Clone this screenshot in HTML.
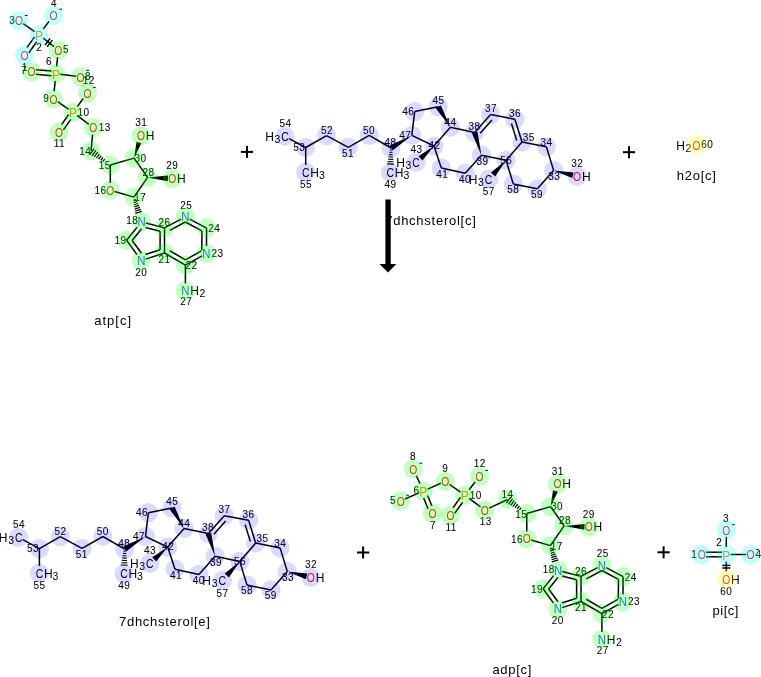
<!DOCTYPE html>
<html><head><meta charset="utf-8"><style>html,body{margin:0;padding:0;background:#fff;}svg{display:block;will-change:transform;}</style></head>
<body><svg width="761" height="677" viewBox="0 0 761 677" font-family="Liberation Sans, sans-serif">
<rect width="761" height="677" fill="#fff"/>
<g><line x1="94.25" y1="148.72" x2="89.89" y2="154.7" stroke="#000" stroke-width="1.3"/>
<line x1="95.99" y1="150.44" x2="92.06" y2="155.82" stroke="#000" stroke-width="1.3"/>
<line x1="97.72" y1="152.16" x2="94.23" y2="156.95" stroke="#000" stroke-width="1.3"/>
<line x1="99.46" y1="153.88" x2="96.4" y2="158.08" stroke="#000" stroke-width="1.3"/>
<line x1="101.2" y1="155.6" x2="98.56" y2="159.21" stroke="#000" stroke-width="1.3"/>
<line x1="102.93" y1="157.32" x2="100.73" y2="160.33" stroke="#000" stroke-width="1.3"/>
<line x1="104.67" y1="159.04" x2="102.9" y2="161.46" stroke="#000" stroke-width="1.3"/>
<line x1="110.3" y1="165" x2="134.1" y2="158.1" stroke="#000" stroke-width="1.5"/>
<line x1="110.3" y1="165" x2="110.3" y2="182.9" stroke="#000" stroke-width="1.5"/>
<line x1="134.1" y1="158.1" x2="147.6" y2="177.4" stroke="#000" stroke-width="1.5"/>
<line x1="147.6" y1="177.4" x2="133.9" y2="197.1" stroke="#000" stroke-width="1.5"/>
<line x1="133.9" y1="197.1" x2="114.6" y2="191.54" stroke="#000" stroke-width="1.5"/>
<polygon points="134.1,158.1 141.31,143.34 136.54,141.86" fill="#000"/>
<polygon points="147.6,177.4 167.87,181.21 168.13,175.41" fill="#000"/>
<line x1="136.22" y1="199.53" x2="133.35" y2="200.41" stroke="#000" stroke-width="1.25"/>
<line x1="137.16" y1="201.5" x2="133.68" y2="202.57" stroke="#000" stroke-width="1.25"/>
<line x1="138.1" y1="203.48" x2="134.02" y2="204.74" stroke="#000" stroke-width="1.25"/>
<line x1="139.04" y1="205.46" x2="134.35" y2="206.9" stroke="#000" stroke-width="1.25"/>
<line x1="139.98" y1="207.44" x2="134.69" y2="209.06" stroke="#000" stroke-width="1.25"/>
<line x1="140.92" y1="209.41" x2="135.02" y2="211.23" stroke="#000" stroke-width="1.25"/>
<line x1="141.86" y1="211.39" x2="135.36" y2="213.39" stroke="#000" stroke-width="1.25"/>
<line x1="137.2" y1="227.14" x2="126.6" y2="240.3" stroke="#000" stroke-width="1.5"/>
<line x1="126.6" y1="240.3" x2="137" y2="254.59" stroke="#000" stroke-width="1.5"/>
<line x1="145.6" y1="259.11" x2="164.5" y2="253" stroke="#000" stroke-width="1.5"/>
<line x1="164.5" y1="253" x2="164.5" y2="227.9" stroke="#000" stroke-width="1.5"/>
<line x1="164.5" y1="227.9" x2="145.8" y2="222.94" stroke="#000" stroke-width="1.5"/>
<line x1="164.5" y1="227.9" x2="181.1" y2="219.08" stroke="#000" stroke-width="1.5"/>
<line x1="189.7" y1="219.11" x2="206.6" y2="228.2" stroke="#000" stroke-width="1.5"/>
<line x1="206.6" y1="228.2" x2="206.46" y2="246" stroke="#000" stroke-width="1.5"/>
<line x1="202.1" y1="255.82" x2="185.4" y2="265.2" stroke="#000" stroke-width="1.5"/>
<line x1="185.4" y1="265.2" x2="164.5" y2="253" stroke="#000" stroke-width="1.5"/>
<line x1="185.4" y1="265.2" x2="185.4" y2="283.4" stroke="#000" stroke-width="1.5"/>
<line x1="141.57" y1="228.73" x2="132.14" y2="240.44" stroke="#000" stroke-width="1.5"/>
<line x1="132.14" y1="240.44" x2="141.51" y2="253.31" stroke="#000" stroke-width="1.5"/>
<line x1="145.36" y1="254.56" x2="160.1" y2="249.8" stroke="#000" stroke-width="1.5"/>
<line x1="160.1" y1="249.8" x2="160.1" y2="231.29" stroke="#000" stroke-width="1.5"/>
<line x1="160.1" y1="231.29" x2="145.55" y2="227.43" stroke="#000" stroke-width="1.5"/>
<line x1="169.81" y1="230.29" x2="185.39" y2="222.02" stroke="#000" stroke-width="1.5"/>
<line x1="185.39" y1="222.02" x2="201.98" y2="230.94" stroke="#000" stroke-width="1.5"/>
<line x1="201.98" y1="230.94" x2="201.83" y2="250.2" stroke="#000" stroke-width="1.5"/>
<line x1="201.39" y1="250.94" x2="185.44" y2="259.9" stroke="#000" stroke-width="1.5"/>
<line x1="185.44" y1="259.9" x2="169.79" y2="250.76" stroke="#000" stroke-width="1.5"/>
<text transform="translate(110.3,194.8) scale(0.86,1)" font-size="12.0" fill="#ff0d0d" text-anchor="middle">O</text>
<text transform="translate(141.5,226.3) scale(0.95,1)" font-size="12.0" fill="#3050f8" text-anchor="middle">N</text>
<text transform="translate(141.3,264.9) scale(0.95,1)" font-size="12.0" fill="#3050f8" text-anchor="middle">N</text>
<text transform="translate(206.3,257.8) scale(0.95,1)" font-size="12.0" fill="#3050f8" text-anchor="middle">N</text>
<text transform="translate(185.4,221.3) scale(0.95,1)" font-size="12.0" fill="#3050f8" text-anchor="middle">N</text>
<text transform="translate(185.4,295.3) scale(0.95,1)" font-size="12.0" fill="#3050f8" text-anchor="middle">N</text>
<text x="194.5" y="295.3" font-size="12.0" fill="#000" text-anchor="middle" >H</text>
<text x="202.5" y="297.3" font-size="10.5" fill="#000" text-anchor="middle" >2</text>
<text transform="translate(172.3,182.9) scale(0.86,1)" font-size="12.0" fill="#ff0d0d" text-anchor="middle">O</text>
<text x="181.4" y="182.9" font-size="12.0" fill="#000" text-anchor="middle" >H</text>
<text transform="translate(141.1,139.9) scale(0.86,1)" font-size="12.0" fill="#ff0d0d" text-anchor="middle">O</text>
<text x="150.2" y="139.9" font-size="12.0" fill="#000" text-anchor="middle" >H</text>
<text x="104.82" y="169.08" font-size="10.0" fill="#000" stroke="#000" stroke-width="0.05" letter-spacing="0.45" text-anchor="middle" >15</text>
<text x="100.52" y="194.38" font-size="10.0" fill="#000" stroke="#000" stroke-width="0.05" letter-spacing="0.45" text-anchor="middle" >16</text>
<text x="140.32" y="201.18" font-size="10.0" fill="#000" stroke="#000" stroke-width="0.05" letter-spacing="0.45" text-anchor="middle" >17</text>
<text x="132.22" y="224.38" font-size="10.0" fill="#000" stroke="#000" stroke-width="0.05" letter-spacing="0.45" text-anchor="middle" >18</text>
<text x="120.62" y="244.08" font-size="10.0" fill="#000" stroke="#000" stroke-width="0.05" letter-spacing="0.45" text-anchor="middle" >19</text>
<text x="141.22" y="275.98" font-size="10.0" fill="#000" stroke="#000" stroke-width="0.05" letter-spacing="0.45" text-anchor="middle" >20</text>
<text x="164.53" y="262.88" font-size="10.0" fill="#000" stroke="#000" stroke-width="0.05" letter-spacing="0.45" text-anchor="middle" >21</text>
<text x="191.53" y="269.38" font-size="10.0" fill="#000" stroke="#000" stroke-width="0.05" letter-spacing="0.45" text-anchor="middle" >22</text>
<text x="217.62" y="256.98" font-size="10.0" fill="#000" stroke="#000" stroke-width="0.05" letter-spacing="0.45" text-anchor="middle" >23</text>
<text x="214.32" y="232.38" font-size="10.0" fill="#000" stroke="#000" stroke-width="0.05" letter-spacing="0.45" text-anchor="middle" >24</text>
<text x="186.22" y="208.68" font-size="10.0" fill="#000" stroke="#000" stroke-width="0.05" letter-spacing="0.45" text-anchor="middle" >25</text>
<text x="164.53" y="226.38" font-size="10.0" fill="#000" stroke="#000" stroke-width="0.05" letter-spacing="0.45" text-anchor="middle" >26</text>
<text x="186.22" y="305.48" font-size="10.0" fill="#000" stroke="#000" stroke-width="0.05" letter-spacing="0.45" text-anchor="middle" >27</text>
<text x="148.42" y="175.88" font-size="10.0" fill="#000" stroke="#000" stroke-width="0.05" letter-spacing="0.45" text-anchor="middle" >28</text>
<text x="172.22" y="169.08" font-size="10.0" fill="#000" stroke="#000" stroke-width="0.05" letter-spacing="0.45" text-anchor="middle" >29</text>
<text x="140.42" y="161.78" font-size="10.0" fill="#000" stroke="#000" stroke-width="0.05" letter-spacing="0.45" text-anchor="middle" >30</text>
<text x="141.22" y="126.38" font-size="10.0" fill="#000" stroke="#000" stroke-width="0.05" letter-spacing="0.45" text-anchor="middle" >31</text>
<line x1="34.6" y1="31.73" x2="23.2" y2="23.57" stroke="#000" stroke-width="1.5"/>
<line x1="43.2" y1="29.11" x2="49.1" y2="21.29" stroke="#000" stroke-width="1.5"/>
<line x1="34.6" y1="36.85" x2="26.88" y2="47.6" stroke="#000" stroke-width="1.5"/>
<line x1="36.71" y1="41.8" x2="28.7" y2="52.95" stroke="#000" stroke-width="1.5"/>
<line x1="43.2" y1="38.19" x2="54" y2="46.71" stroke="#000" stroke-width="1.5"/>
<line x1="50.2" y1="38.36" x2="45" y2="44.96" stroke="#000" stroke-width="1.5"/>
<line x1="52.4" y1="40.1" x2="47.2" y2="46.69" stroke="#000" stroke-width="1.5"/>
<line x1="57.59" y1="57.1" x2="56.65" y2="66.4" stroke="#000" stroke-width="1.5"/>
<line x1="51.6" y1="71.1" x2="35.9" y2="69.68" stroke="#000" stroke-width="1.5"/>
<line x1="51.6" y1="75.72" x2="35.9" y2="74.3" stroke="#000" stroke-width="1.5"/>
<line x1="60.2" y1="74.32" x2="76.2" y2="76.28" stroke="#000" stroke-width="1.5"/>
<line x1="55.2" y1="80.8" x2="54.14" y2="91.3" stroke="#000" stroke-width="1.5"/>
<line x1="57.7" y1="101.71" x2="68.7" y2="109.39" stroke="#000" stroke-width="1.5"/>
<line x1="77.3" y1="106.63" x2="83.3" y2="98.57" stroke="#000" stroke-width="1.5"/>
<line x1="68.7" y1="114.49" x2="61.53" y2="124.6" stroke="#000" stroke-width="1.5"/>
<line x1="70.86" y1="119.4" x2="63.4" y2="129.91" stroke="#000" stroke-width="1.5"/>
<line x1="77.3" y1="115.64" x2="88.9" y2="124.36" stroke="#000" stroke-width="1.5"/>
<line x1="92.57" y1="134.6" x2="91.1" y2="151" stroke="#000" stroke-width="1.5"/>
<text transform="translate(24.4,59.8) scale(0.86,1)" font-size="12.0" fill="#ff0d0d" text-anchor="middle">O</text>
<text transform="translate(18.9,25.3) scale(0.86,1)" font-size="12.0" fill="#ff0d0d" text-anchor="middle">O</text>
<text transform="translate(53.4,20.4) scale(0.86,1)" font-size="12.0" fill="#ff0d0d" text-anchor="middle">O</text>
<text transform="translate(58.3,54.9) scale(0.86,1)" font-size="12.0" fill="#ff0d0d" text-anchor="middle">O</text>
<text transform="translate(31.6,76.4) scale(0.86,1)" font-size="12.0" fill="#ff0d0d" text-anchor="middle">O</text>
<text transform="translate(80.5,81.6) scale(0.86,1)" font-size="12.0" fill="#ff0d0d" text-anchor="middle">O</text>
<text transform="translate(53.4,103.5) scale(0.86,1)" font-size="12.0" fill="#ff0d0d" text-anchor="middle">O</text>
<text transform="translate(59.1,136.8) scale(0.86,1)" font-size="12.0" fill="#ff0d0d" text-anchor="middle">O</text>
<text transform="translate(87.6,97.6) scale(0.86,1)" font-size="12.0" fill="#ff0d0d" text-anchor="middle">O</text>
<text transform="translate(93.2,132.4) scale(0.86,1)" font-size="12.0" fill="#ff0d0d" text-anchor="middle">O</text>
<text x="38.9" y="39.5" font-size="12.0" fill="#ff8000" text-anchor="middle" >P</text>
<text x="55.9" y="78.5" font-size="12.0" fill="#ff8000" text-anchor="middle" >P</text>
<text x="73" y="117.1" font-size="12.0" fill="#ff8000" text-anchor="middle" >P</text>
<text x="24.6" y="70.58" font-size="10.0" fill="#000" stroke="#000" stroke-width="0.05" text-anchor="middle" >1</text>
<text x="39.1" y="51.38" font-size="10.0" fill="#000" stroke="#000" stroke-width="0.05" text-anchor="middle" >2</text>
<text x="12" y="23.98" font-size="10.0" fill="#000" stroke="#000" stroke-width="0.05" text-anchor="middle" >3</text>
<text x="53.8" y="7.38" font-size="10.0" fill="#000" stroke="#000" stroke-width="0.05" text-anchor="middle" >4</text>
<text x="65.7" y="53.08" font-size="10.0" fill="#000" stroke="#000" stroke-width="0.05" text-anchor="middle" >5</text>
<text x="48.8" y="65.38" font-size="10.0" fill="#000" stroke="#000" stroke-width="0.05" text-anchor="middle" >6</text>
<text x="23.8" y="74.08" font-size="10.0" fill="#000" stroke="#000" stroke-width="0.05" text-anchor="middle" >7</text>
<text x="87.8" y="79.58" font-size="10.0" fill="#000" stroke="#000" stroke-width="0.05" text-anchor="middle" >8</text>
<text x="46" y="102.38" font-size="10.0" fill="#000" stroke="#000" stroke-width="0.05" text-anchor="middle" >9</text>
<text x="83.62" y="115.78" font-size="10.0" fill="#000" stroke="#000" stroke-width="0.05" letter-spacing="0.45" text-anchor="middle" >10</text>
<text x="59.33" y="147.08" font-size="10.0" fill="#000" stroke="#000" stroke-width="0.05" letter-spacing="0.45" text-anchor="middle" >11</text>
<text x="88.82" y="83.78" font-size="10.0" fill="#000" stroke="#000" stroke-width="0.05" letter-spacing="0.45" text-anchor="middle" >12</text>
<text x="104.72" y="131.08" font-size="10.0" fill="#000" stroke="#000" stroke-width="0.05" letter-spacing="0.45" text-anchor="middle" >13</text>
<text x="85.22" y="154.88" font-size="10.0" fill="#000" stroke="#000" stroke-width="0.05" letter-spacing="0.45" text-anchor="middle" >14</text>
<rect x="24.8" y="15" width="2.8" height="1" fill="#000"/>
<rect x="59.3" y="8.7" width="2.8" height="1" fill="#000"/>
<rect x="86.2" y="69.8" width="2.8" height="1" fill="#000"/>
<rect x="92.9" y="86.9" width="2.8" height="1" fill="#000"/>
<circle cx="91.1" cy="151" r="9.6" fill="rgba(0,255,0,0.24)"/>
<circle cx="110.3" cy="165" r="9.6" fill="rgba(0,255,0,0.24)"/>
<circle cx="110.3" cy="190.3" r="9.6" fill="rgba(0,255,0,0.24)"/>
<circle cx="133.9" cy="197.1" r="9.6" fill="rgba(0,255,0,0.24)"/>
<circle cx="141.5" cy="221.8" r="9.6" fill="rgba(0,255,0,0.24)"/>
<circle cx="126.6" cy="240.3" r="9.6" fill="rgba(0,255,0,0.24)"/>
<circle cx="141.3" cy="260.5" r="9.6" fill="rgba(0,255,0,0.24)"/>
<circle cx="164.5" cy="253" r="9.6" fill="rgba(0,255,0,0.24)"/>
<circle cx="185.4" cy="265.2" r="9.6" fill="rgba(0,255,0,0.24)"/>
<circle cx="206.4" cy="253.4" r="9.6" fill="rgba(0,255,0,0.24)"/>
<circle cx="206.6" cy="228.2" r="9.6" fill="rgba(0,255,0,0.24)"/>
<circle cx="185.4" cy="216.8" r="9.6" fill="rgba(0,255,0,0.24)"/>
<circle cx="164.5" cy="227.9" r="9.6" fill="rgba(0,255,0,0.24)"/>
<circle cx="185.4" cy="290.8" r="9.6" fill="rgba(0,255,0,0.24)"/>
<circle cx="147.6" cy="177.4" r="9.6" fill="rgba(0,255,0,0.24)"/>
<circle cx="172.3" cy="178.5" r="9.6" fill="rgba(0,255,0,0.24)"/>
<circle cx="134.1" cy="158.1" r="9.6" fill="rgba(0,255,0,0.24)"/>
<circle cx="141.1" cy="135.6" r="9.6" fill="rgba(0,255,0,0.24)"/>
<circle cx="24.4" cy="55" r="9.6" fill="rgba(0,255,255,0.25)"/>
<circle cx="38.9" cy="34.8" r="9.6" fill="rgba(0,255,255,0.25)"/>
<circle cx="18.9" cy="20.5" r="9.6" fill="rgba(0,255,255,0.25)"/>
<circle cx="53.4" cy="15.6" r="9.6" fill="rgba(0,255,255,0.25)"/>
<circle cx="58.3" cy="50.1" r="9.6" fill="rgba(0,255,0,0.24)"/>
<circle cx="55.9" cy="73.8" r="9.6" fill="rgba(0,255,0,0.24)"/>
<circle cx="31.6" cy="71.6" r="9.6" fill="rgba(0,255,0,0.24)"/>
<circle cx="80.5" cy="76.8" r="9.6" fill="rgba(0,255,0,0.24)"/>
<circle cx="53.4" cy="98.7" r="9.6" fill="rgba(0,255,0,0.24)"/>
<circle cx="73" cy="112.4" r="9.6" fill="rgba(0,255,0,0.24)"/>
<circle cx="59.1" cy="132" r="9.6" fill="rgba(0,255,0,0.24)"/>
<circle cx="87.6" cy="92.8" r="9.6" fill="rgba(0,255,0,0.24)"/>
<circle cx="93.2" cy="127.6" r="9.6" fill="rgba(0,255,0,0.24)"/></g>
<g transform="translate(416.5,348.5)"><line x1="94.25" y1="148.72" x2="89.89" y2="154.7" stroke="#000" stroke-width="1.3"/>
<line x1="95.99" y1="150.44" x2="92.06" y2="155.82" stroke="#000" stroke-width="1.3"/>
<line x1="97.72" y1="152.16" x2="94.23" y2="156.95" stroke="#000" stroke-width="1.3"/>
<line x1="99.46" y1="153.88" x2="96.4" y2="158.08" stroke="#000" stroke-width="1.3"/>
<line x1="101.2" y1="155.6" x2="98.56" y2="159.21" stroke="#000" stroke-width="1.3"/>
<line x1="102.93" y1="157.32" x2="100.73" y2="160.33" stroke="#000" stroke-width="1.3"/>
<line x1="104.67" y1="159.04" x2="102.9" y2="161.46" stroke="#000" stroke-width="1.3"/>
<line x1="110.3" y1="165" x2="134.1" y2="158.1" stroke="#000" stroke-width="1.5"/>
<line x1="110.3" y1="165" x2="110.3" y2="182.9" stroke="#000" stroke-width="1.5"/>
<line x1="134.1" y1="158.1" x2="147.6" y2="177.4" stroke="#000" stroke-width="1.5"/>
<line x1="147.6" y1="177.4" x2="133.9" y2="197.1" stroke="#000" stroke-width="1.5"/>
<line x1="133.9" y1="197.1" x2="114.6" y2="191.54" stroke="#000" stroke-width="1.5"/>
<polygon points="134.1,158.1 141.31,143.34 136.54,141.86" fill="#000"/>
<polygon points="147.6,177.4 167.87,181.21 168.13,175.41" fill="#000"/>
<line x1="136.22" y1="199.53" x2="133.35" y2="200.41" stroke="#000" stroke-width="1.25"/>
<line x1="137.16" y1="201.5" x2="133.68" y2="202.57" stroke="#000" stroke-width="1.25"/>
<line x1="138.1" y1="203.48" x2="134.02" y2="204.74" stroke="#000" stroke-width="1.25"/>
<line x1="139.04" y1="205.46" x2="134.35" y2="206.9" stroke="#000" stroke-width="1.25"/>
<line x1="139.98" y1="207.44" x2="134.69" y2="209.06" stroke="#000" stroke-width="1.25"/>
<line x1="140.92" y1="209.41" x2="135.02" y2="211.23" stroke="#000" stroke-width="1.25"/>
<line x1="141.86" y1="211.39" x2="135.36" y2="213.39" stroke="#000" stroke-width="1.25"/>
<line x1="137.2" y1="227.14" x2="126.6" y2="240.3" stroke="#000" stroke-width="1.5"/>
<line x1="126.6" y1="240.3" x2="137" y2="254.59" stroke="#000" stroke-width="1.5"/>
<line x1="145.6" y1="259.11" x2="164.5" y2="253" stroke="#000" stroke-width="1.5"/>
<line x1="164.5" y1="253" x2="164.5" y2="227.9" stroke="#000" stroke-width="1.5"/>
<line x1="164.5" y1="227.9" x2="145.8" y2="222.94" stroke="#000" stroke-width="1.5"/>
<line x1="164.5" y1="227.9" x2="181.1" y2="219.08" stroke="#000" stroke-width="1.5"/>
<line x1="189.7" y1="219.11" x2="206.6" y2="228.2" stroke="#000" stroke-width="1.5"/>
<line x1="206.6" y1="228.2" x2="206.46" y2="246" stroke="#000" stroke-width="1.5"/>
<line x1="202.1" y1="255.82" x2="185.4" y2="265.2" stroke="#000" stroke-width="1.5"/>
<line x1="185.4" y1="265.2" x2="164.5" y2="253" stroke="#000" stroke-width="1.5"/>
<line x1="185.4" y1="265.2" x2="185.4" y2="283.4" stroke="#000" stroke-width="1.5"/>
<line x1="141.57" y1="228.73" x2="132.14" y2="240.44" stroke="#000" stroke-width="1.5"/>
<line x1="132.14" y1="240.44" x2="141.51" y2="253.31" stroke="#000" stroke-width="1.5"/>
<line x1="145.36" y1="254.56" x2="160.1" y2="249.8" stroke="#000" stroke-width="1.5"/>
<line x1="160.1" y1="249.8" x2="160.1" y2="231.29" stroke="#000" stroke-width="1.5"/>
<line x1="160.1" y1="231.29" x2="145.55" y2="227.43" stroke="#000" stroke-width="1.5"/>
<line x1="169.81" y1="230.29" x2="185.39" y2="222.02" stroke="#000" stroke-width="1.5"/>
<line x1="185.39" y1="222.02" x2="201.98" y2="230.94" stroke="#000" stroke-width="1.5"/>
<line x1="201.98" y1="230.94" x2="201.83" y2="250.2" stroke="#000" stroke-width="1.5"/>
<line x1="201.39" y1="250.94" x2="185.44" y2="259.9" stroke="#000" stroke-width="1.5"/>
<line x1="185.44" y1="259.9" x2="169.79" y2="250.76" stroke="#000" stroke-width="1.5"/>
<text transform="translate(110.3,194.8) scale(0.86,1)" font-size="12.0" fill="#ff0d0d" text-anchor="middle">O</text>
<text transform="translate(141.5,226.3) scale(0.95,1)" font-size="12.0" fill="#3050f8" text-anchor="middle">N</text>
<text transform="translate(141.3,264.9) scale(0.95,1)" font-size="12.0" fill="#3050f8" text-anchor="middle">N</text>
<text transform="translate(206.3,257.8) scale(0.95,1)" font-size="12.0" fill="#3050f8" text-anchor="middle">N</text>
<text transform="translate(185.4,221.3) scale(0.95,1)" font-size="12.0" fill="#3050f8" text-anchor="middle">N</text>
<text transform="translate(185.4,295.3) scale(0.95,1)" font-size="12.0" fill="#3050f8" text-anchor="middle">N</text>
<text x="194.5" y="295.3" font-size="12.0" fill="#000" text-anchor="middle" >H</text>
<text x="202.5" y="297.3" font-size="10.5" fill="#000" text-anchor="middle" >2</text>
<text transform="translate(172.3,182.9) scale(0.86,1)" font-size="12.0" fill="#ff0d0d" text-anchor="middle">O</text>
<text x="181.4" y="182.9" font-size="12.0" fill="#000" text-anchor="middle" >H</text>
<text transform="translate(141.1,139.9) scale(0.86,1)" font-size="12.0" fill="#ff0d0d" text-anchor="middle">O</text>
<text x="150.2" y="139.9" font-size="12.0" fill="#000" text-anchor="middle" >H</text>
<text x="104.82" y="169.08" font-size="10.0" fill="#000" stroke="#000" stroke-width="0.05" letter-spacing="0.45" text-anchor="middle" >15</text>
<text x="100.52" y="194.38" font-size="10.0" fill="#000" stroke="#000" stroke-width="0.05" letter-spacing="0.45" text-anchor="middle" >16</text>
<text x="140.32" y="201.18" font-size="10.0" fill="#000" stroke="#000" stroke-width="0.05" letter-spacing="0.45" text-anchor="middle" >17</text>
<text x="132.22" y="224.38" font-size="10.0" fill="#000" stroke="#000" stroke-width="0.05" letter-spacing="0.45" text-anchor="middle" >18</text>
<text x="120.62" y="244.08" font-size="10.0" fill="#000" stroke="#000" stroke-width="0.05" letter-spacing="0.45" text-anchor="middle" >19</text>
<text x="141.22" y="275.98" font-size="10.0" fill="#000" stroke="#000" stroke-width="0.05" letter-spacing="0.45" text-anchor="middle" >20</text>
<text x="164.53" y="262.88" font-size="10.0" fill="#000" stroke="#000" stroke-width="0.05" letter-spacing="0.45" text-anchor="middle" >21</text>
<text x="191.53" y="269.38" font-size="10.0" fill="#000" stroke="#000" stroke-width="0.05" letter-spacing="0.45" text-anchor="middle" >22</text>
<text x="217.62" y="256.98" font-size="10.0" fill="#000" stroke="#000" stroke-width="0.05" letter-spacing="0.45" text-anchor="middle" >23</text>
<text x="214.32" y="232.38" font-size="10.0" fill="#000" stroke="#000" stroke-width="0.05" letter-spacing="0.45" text-anchor="middle" >24</text>
<text x="186.22" y="208.68" font-size="10.0" fill="#000" stroke="#000" stroke-width="0.05" letter-spacing="0.45" text-anchor="middle" >25</text>
<text x="164.53" y="226.38" font-size="10.0" fill="#000" stroke="#000" stroke-width="0.05" letter-spacing="0.45" text-anchor="middle" >26</text>
<text x="186.22" y="305.48" font-size="10.0" fill="#000" stroke="#000" stroke-width="0.05" letter-spacing="0.45" text-anchor="middle" >27</text>
<text x="148.42" y="175.88" font-size="10.0" fill="#000" stroke="#000" stroke-width="0.05" letter-spacing="0.45" text-anchor="middle" >28</text>
<text x="172.22" y="169.08" font-size="10.0" fill="#000" stroke="#000" stroke-width="0.05" letter-spacing="0.45" text-anchor="middle" >29</text>
<text x="140.42" y="161.78" font-size="10.0" fill="#000" stroke="#000" stroke-width="0.05" letter-spacing="0.45" text-anchor="middle" >30</text>
<text x="141.22" y="126.38" font-size="10.0" fill="#000" stroke="#000" stroke-width="0.05" letter-spacing="0.45" text-anchor="middle" >31</text></g><line x1="419.93" y1="483.6" x2="416.38" y2="475.8" stroke="#000" stroke-width="1.5"/>
<line x1="419" y1="492.86" x2="405" y2="498.94" stroke="#000" stroke-width="1.5"/>
<line x1="423.66" y1="498" x2="428.1" y2="508.93" stroke="#000" stroke-width="1.5"/>
<line x1="427.6" y1="495.47" x2="431.88" y2="506" stroke="#000" stroke-width="1.5"/>
<line x1="427.6" y1="489.12" x2="440.9" y2="483.28" stroke="#000" stroke-width="1.5"/>
<line x1="449.5" y1="484.43" x2="460.5" y2="492.17" stroke="#000" stroke-width="1.5"/>
<line x1="469.1" y1="489.69" x2="475.1" y2="482.01" stroke="#000" stroke-width="1.5"/>
<line x1="460.5" y1="497.28" x2="452.94" y2="507.9" stroke="#000" stroke-width="1.5"/>
<line x1="462.64" y1="502.2" x2="454.8" y2="513.22" stroke="#000" stroke-width="1.5"/>
<line x1="469.1" y1="498.43" x2="480.5" y2="506.97" stroke="#000" stroke-width="1.5"/>
<line x1="489.1" y1="508.18" x2="507.6" y2="499.5" stroke="#000" stroke-width="1.5"/>
<text transform="translate(413.2,473.6) scale(0.86,1)" font-size="12.0" fill="#ff0d0d" text-anchor="middle">O</text>
<text transform="translate(400.7,505.6) scale(0.86,1)" font-size="12.0" fill="#ff0d0d" text-anchor="middle">O</text>
<text transform="translate(432.4,518.2) scale(0.86,1)" font-size="12.0" fill="#ff0d0d" text-anchor="middle">O</text>
<text transform="translate(445.2,486.2) scale(0.86,1)" font-size="12.0" fill="#ff0d0d" text-anchor="middle">O</text>
<text transform="translate(479.4,481.3) scale(0.86,1)" font-size="12.0" fill="#ff0d0d" text-anchor="middle">O</text>
<text transform="translate(450.5,520.1) scale(0.86,1)" font-size="12.0" fill="#ff0d0d" text-anchor="middle">O</text>
<text transform="translate(484.8,515) scale(0.86,1)" font-size="12.0" fill="#ff0d0d" text-anchor="middle">O</text>
<text x="423.3" y="495.7" font-size="12.0" fill="#ff8000" text-anchor="middle" >P</text>
<text x="464.8" y="499.9" font-size="12.0" fill="#ff8000" text-anchor="middle" >P</text>
<text x="412.9" y="459.88" font-size="10.0" fill="#000" stroke="#000" stroke-width="0.05" text-anchor="middle" >8</text>
<text x="416.4" y="493.68" font-size="10.0" fill="#000" stroke="#000" stroke-width="0.05" text-anchor="middle" >6</text>
<text x="392.8" y="504.38" font-size="10.0" fill="#000" stroke="#000" stroke-width="0.05" text-anchor="middle" >5</text>
<text x="445" y="471.78" font-size="10.0" fill="#000" stroke="#000" stroke-width="0.05" text-anchor="middle" >9</text>
<text x="432.9" y="529.48" font-size="10.0" fill="#000" stroke="#000" stroke-width="0.05" text-anchor="middle" >7</text>
<text x="451.23" y="531.08" font-size="10.0" fill="#000" stroke="#000" stroke-width="0.05" letter-spacing="0.45" text-anchor="middle" >11</text>
<text x="479.83" y="467.48" font-size="10.0" fill="#000" stroke="#000" stroke-width="0.05" letter-spacing="0.45" text-anchor="middle" >12</text>
<text x="475.73" y="499.38" font-size="10.0" fill="#000" stroke="#000" stroke-width="0.05" letter-spacing="0.45" text-anchor="middle" >10</text>
<text x="485.73" y="525.38" font-size="10.0" fill="#000" stroke="#000" stroke-width="0.05" letter-spacing="0.45" text-anchor="middle" >13</text>
<text x="507.62" y="498.18" font-size="10.0" fill="#000" stroke="#000" stroke-width="0.05" letter-spacing="0.45" text-anchor="middle" >14</text>
<rect x="419.4" y="462.7" width="2.8" height="1" fill="#000"/>
<rect x="406.2" y="494.7" width="2.8" height="1" fill="#000"/>
<rect x="485.3" y="469.9" width="2.8" height="1" fill="#000"/><g transform="translate(416.5,348.5)"><circle cx="91.1" cy="151" r="9.6" fill="rgba(0,255,0,0.24)"/>
<circle cx="110.3" cy="165" r="9.6" fill="rgba(0,255,0,0.24)"/>
<circle cx="110.3" cy="190.3" r="9.6" fill="rgba(0,255,0,0.24)"/>
<circle cx="133.9" cy="197.1" r="9.6" fill="rgba(0,255,0,0.24)"/>
<circle cx="141.5" cy="221.8" r="9.6" fill="rgba(0,255,0,0.24)"/>
<circle cx="126.6" cy="240.3" r="9.6" fill="rgba(0,255,0,0.24)"/>
<circle cx="141.3" cy="260.5" r="9.6" fill="rgba(0,255,0,0.24)"/>
<circle cx="164.5" cy="253" r="9.6" fill="rgba(0,255,0,0.24)"/>
<circle cx="185.4" cy="265.2" r="9.6" fill="rgba(0,255,0,0.24)"/>
<circle cx="206.4" cy="253.4" r="9.6" fill="rgba(0,255,0,0.24)"/>
<circle cx="206.6" cy="228.2" r="9.6" fill="rgba(0,255,0,0.24)"/>
<circle cx="185.4" cy="216.8" r="9.6" fill="rgba(0,255,0,0.24)"/>
<circle cx="164.5" cy="227.9" r="9.6" fill="rgba(0,255,0,0.24)"/>
<circle cx="185.4" cy="290.8" r="9.6" fill="rgba(0,255,0,0.24)"/>
<circle cx="147.6" cy="177.4" r="9.6" fill="rgba(0,255,0,0.24)"/>
<circle cx="172.3" cy="178.5" r="9.6" fill="rgba(0,255,0,0.24)"/>
<circle cx="134.1" cy="158.1" r="9.6" fill="rgba(0,255,0,0.24)"/>
<circle cx="141.1" cy="135.6" r="9.6" fill="rgba(0,255,0,0.24)"/></g><circle cx="413.2" cy="468.8" r="9.6" fill="rgba(0,255,0,0.24)"/>
<circle cx="423.3" cy="491" r="9.6" fill="rgba(0,255,0,0.24)"/>
<circle cx="400.7" cy="500.8" r="9.6" fill="rgba(0,255,0,0.24)"/>
<circle cx="432.4" cy="513.4" r="9.6" fill="rgba(0,255,0,0.24)"/>
<circle cx="445.2" cy="481.4" r="9.6" fill="rgba(0,255,0,0.24)"/>
<circle cx="464.8" cy="495.2" r="9.6" fill="rgba(0,255,0,0.24)"/>
<circle cx="479.4" cy="476.5" r="9.6" fill="rgba(0,255,0,0.24)"/>
<circle cx="450.5" cy="515.3" r="9.6" fill="rgba(0,255,0,0.24)"/>
<circle cx="484.8" cy="510.2" r="9.6" fill="rgba(0,255,0,0.24)"/>
<g><line x1="289.1" y1="138.6" x2="305.7" y2="147.5" stroke="#000" stroke-width="1.5"/>
<line x1="305.7" y1="147.5" x2="305.7" y2="164.8" stroke="#000" stroke-width="1.5"/>
<line x1="305.7" y1="147.5" x2="326.6" y2="135.6" stroke="#000" stroke-width="1.5"/>
<line x1="326.6" y1="135.6" x2="348.3" y2="147.3" stroke="#000" stroke-width="1.5"/>
<line x1="348.3" y1="147.3" x2="369.2" y2="135.4" stroke="#000" stroke-width="1.5"/>
<line x1="369.2" y1="135.4" x2="391" y2="148" stroke="#000" stroke-width="1.5"/>
<line x1="411.8" y1="135.4" x2="414.7" y2="111.6" stroke="#000" stroke-width="1.5"/>
<line x1="414.7" y1="111.6" x2="438.3" y2="106.8" stroke="#000" stroke-width="1.5"/>
<line x1="450.4" y1="127.3" x2="434" y2="146" stroke="#000" stroke-width="1.5"/>
<line x1="434" y1="146" x2="411.8" y2="135.4" stroke="#000" stroke-width="1.5"/>
<line x1="434" y1="146" x2="441.3" y2="168.1" stroke="#000" stroke-width="1.5"/>
<line x1="441.3" y1="168.1" x2="465.2" y2="173.3" stroke="#000" stroke-width="1.5"/>
<line x1="465.2" y1="173.3" x2="481.4" y2="155.2" stroke="#000" stroke-width="1.5"/>
<line x1="450.4" y1="127.3" x2="474.7" y2="132.4" stroke="#000" stroke-width="1.5"/>
<line x1="474.7" y1="132.4" x2="490.6" y2="114.6" stroke="#000" stroke-width="1.5"/>
<line x1="490.6" y1="114.6" x2="514.9" y2="119.2" stroke="#000" stroke-width="1.5"/>
<line x1="514.9" y1="119.2" x2="522" y2="142" stroke="#000" stroke-width="1.5"/>
<line x1="522" y1="142" x2="506.1" y2="160.3" stroke="#000" stroke-width="1.5"/>
<line x1="506.1" y1="160.3" x2="481.4" y2="155.2" stroke="#000" stroke-width="1.5"/>
<line x1="522" y1="142" x2="546.4" y2="146.8" stroke="#000" stroke-width="1.5"/>
<line x1="546.4" y1="146.8" x2="553.6" y2="170.4" stroke="#000" stroke-width="1.5"/>
<line x1="553.6" y1="170.4" x2="537.3" y2="188.8" stroke="#000" stroke-width="1.5"/>
<line x1="537.3" y1="188.8" x2="513.3" y2="184" stroke="#000" stroke-width="1.5"/>
<line x1="513.3" y1="184" x2="506.1" y2="160.3" stroke="#000" stroke-width="1.5"/>
<line x1="392.09" y1="150.03" x2="389.79" y2="149.97" stroke="#000" stroke-width="1.1"/>
<line x1="392.39" y1="152.37" x2="389.36" y2="152.29" stroke="#000" stroke-width="1.1"/>
<line x1="392.69" y1="154.72" x2="388.93" y2="154.61" stroke="#000" stroke-width="1.1"/>
<line x1="392.99" y1="157.06" x2="388.49" y2="156.93" stroke="#000" stroke-width="1.1"/>
<line x1="393.29" y1="159.4" x2="388.06" y2="159.25" stroke="#000" stroke-width="1.1"/>
<line x1="393.59" y1="161.75" x2="387.63" y2="161.58" stroke="#000" stroke-width="1.1"/>
<line x1="393.89" y1="164.09" x2="387.19" y2="163.9" stroke="#000" stroke-width="1.1"/>
<polygon points="411.8,135.4 389.5,145.52 392.5,150.48" fill="#000"/>
<polygon points="450.4,127.3 440.8,105.33 435.8,108.27" fill="#000"/>
<polygon points="434,146 418.54,156.22 422.46,160.5" fill="#000"/>
<polygon points="481.4,155.2 477.48,131.58 471.92,133.22" fill="#000"/>
<polygon points="506.1,160.3 490.97,172.46 495.23,176.39" fill="#000"/>
<polygon points="553.6,170.4 572.19,178.12 573.61,172.5" fill="#000"/>
<line x1="480.2" y1="133.15" x2="491.96" y2="119.98" stroke="#000" stroke-width="1.5"/>
<line x1="511.43" y1="123.53" x2="516.69" y2="140.4" stroke="#000" stroke-width="1.5"/>
<text transform="translate(285,140.8) scale(0.87,1)" font-size="12.0" fill="#000" text-anchor="middle">C</text>
<text x="269.5" y="140.8" font-size="12.0" fill="#000" text-anchor="middle" >H</text>
<text x="277.4" y="142.8" font-size="10.5" fill="#000" text-anchor="middle" >3</text>
<text transform="translate(305.8,176.6) scale(0.87,1)" font-size="12.0" fill="#000" text-anchor="middle">C</text>
<text x="314.7" y="176.6" font-size="12.0" fill="#000" text-anchor="middle" >H</text>
<text x="321.8" y="178.6" font-size="10.5" fill="#000" text-anchor="middle" >3</text>
<text transform="translate(390.3,176.9) scale(0.87,1)" font-size="12.0" fill="#000" text-anchor="middle">C</text>
<text x="399.2" y="176.9" font-size="12.0" fill="#000" text-anchor="middle" >H</text>
<text x="406.3" y="178.9" font-size="10.5" fill="#000" text-anchor="middle" >3</text>
<text transform="translate(416.1,166.7) scale(0.87,1)" font-size="12.0" fill="#000" text-anchor="middle">C</text>
<text x="400.6" y="166.7" font-size="12.0" fill="#000" text-anchor="middle" >H</text>
<text x="408.5" y="168.7" font-size="10.5" fill="#000" text-anchor="middle" >3</text>
<text transform="translate(488.5,183.5) scale(0.87,1)" font-size="12.0" fill="#000" text-anchor="middle">C</text>
<text x="473" y="183.5" font-size="12.0" fill="#000" text-anchor="middle" >H</text>
<text x="480.9" y="185.5" font-size="10.5" fill="#000" text-anchor="middle" >3</text>
<text transform="translate(577,180.9) scale(0.86,1)" font-size="12.0" fill="#ff0d0d" text-anchor="middle">O</text>
<text x="586.4" y="180.9" font-size="12.0" fill="#000" text-anchor="middle" >H</text>
<text x="285.43" y="127.18" font-size="10.0" fill="#000" stroke="#000" stroke-width="0.05" letter-spacing="0.45" text-anchor="middle" >54</text>
<text x="299.33" y="151.38" font-size="10.0" fill="#000" stroke="#000" stroke-width="0.05" letter-spacing="0.45" text-anchor="middle" >53</text>
<text x="326.93" y="134.28" font-size="10.0" fill="#000" stroke="#000" stroke-width="0.05" letter-spacing="0.45" text-anchor="middle" >52</text>
<text x="348.03" y="156.68" font-size="10.0" fill="#000" stroke="#000" stroke-width="0.05" letter-spacing="0.45" text-anchor="middle" >51</text>
<text x="369.03" y="134.28" font-size="10.0" fill="#000" stroke="#000" stroke-width="0.05" letter-spacing="0.45" text-anchor="middle" >50</text>
<text x="390.53" y="146.18" font-size="10.0" fill="#000" stroke="#000" stroke-width="0.05" letter-spacing="0.45" text-anchor="middle" >48</text>
<text x="390.53" y="187.68" font-size="10.0" fill="#000" stroke="#000" stroke-width="0.05" letter-spacing="0.45" text-anchor="middle" >49</text>
<text x="305.93" y="188.18" font-size="10.0" fill="#000" stroke="#000" stroke-width="0.05" letter-spacing="0.45" text-anchor="middle" >55</text>
<text x="405.23" y="138.78" font-size="10.0" fill="#000" stroke="#000" stroke-width="0.05" letter-spacing="0.45" text-anchor="middle" >47</text>
<text x="408.23" y="115.28" font-size="10.0" fill="#000" stroke="#000" stroke-width="0.05" letter-spacing="0.45" text-anchor="middle" >46</text>
<text x="416.43" y="153.28" font-size="10.0" fill="#000" stroke="#000" stroke-width="0.05" letter-spacing="0.45" text-anchor="middle" >43</text>
<text x="434.53" y="149.08" font-size="10.0" fill="#000" stroke="#000" stroke-width="0.05" letter-spacing="0.45" text-anchor="middle" >42</text>
<text x="438.53" y="104.28" font-size="10.0" fill="#000" stroke="#000" stroke-width="0.05" letter-spacing="0.45" text-anchor="middle" >45</text>
<text x="450.53" y="125.58" font-size="10.0" fill="#000" stroke="#000" stroke-width="0.05" letter-spacing="0.45" text-anchor="middle" >44</text>
<text x="474.43" y="129.98" font-size="10.0" fill="#000" stroke="#000" stroke-width="0.05" letter-spacing="0.45" text-anchor="middle" >38</text>
<text x="490.93" y="111.88" font-size="10.0" fill="#000" stroke="#000" stroke-width="0.05" letter-spacing="0.45" text-anchor="middle" >37</text>
<text x="514.93" y="117.38" font-size="10.0" fill="#000" stroke="#000" stroke-width="0.05" letter-spacing="0.45" text-anchor="middle" >36</text>
<text x="528.83" y="141.38" font-size="10.0" fill="#000" stroke="#000" stroke-width="0.05" letter-spacing="0.45" text-anchor="middle" >35</text>
<text x="546.62" y="146.38" font-size="10.0" fill="#000" stroke="#000" stroke-width="0.05" letter-spacing="0.45" text-anchor="middle" >34</text>
<text x="577.23" y="167.08" font-size="10.0" fill="#000" stroke="#000" stroke-width="0.05" letter-spacing="0.45" text-anchor="middle" >32</text>
<text x="554.33" y="179.98" font-size="10.0" fill="#000" stroke="#000" stroke-width="0.05" letter-spacing="0.45" text-anchor="middle" >33</text>
<text x="537.02" y="197.58" font-size="10.0" fill="#000" stroke="#000" stroke-width="0.05" letter-spacing="0.45" text-anchor="middle" >59</text>
<text x="513.23" y="192.98" font-size="10.0" fill="#000" stroke="#000" stroke-width="0.05" letter-spacing="0.45" text-anchor="middle" >58</text>
<text x="488.83" y="195.48" font-size="10.0" fill="#000" stroke="#000" stroke-width="0.05" letter-spacing="0.45" text-anchor="middle" >57</text>
<text x="506.23" y="164.18" font-size="10.0" fill="#000" stroke="#000" stroke-width="0.05" letter-spacing="0.45" text-anchor="middle" >56</text>
<text x="465.03" y="182.88" font-size="10.0" fill="#000" stroke="#000" stroke-width="0.05" letter-spacing="0.45" text-anchor="middle" >40</text>
<text x="442.33" y="178.18" font-size="10.0" fill="#000" stroke="#000" stroke-width="0.05" letter-spacing="0.45" text-anchor="middle" >41</text>
<text x="482.43" y="164.98" font-size="10.0" fill="#000" stroke="#000" stroke-width="0.05" letter-spacing="0.45" text-anchor="middle" >39</text><circle cx="284.8" cy="136.3" r="9.6" fill="rgba(0,0,255,0.145)"/>
<circle cx="305.7" cy="147.5" r="9.6" fill="rgba(0,0,255,0.145)"/>
<circle cx="305.7" cy="172.2" r="9.6" fill="rgba(0,0,255,0.145)"/>
<circle cx="326.6" cy="135.6" r="9.6" fill="rgba(0,0,255,0.145)"/>
<circle cx="348.3" cy="147.3" r="9.6" fill="rgba(0,0,255,0.145)"/>
<circle cx="369.2" cy="135.4" r="9.6" fill="rgba(0,0,255,0.145)"/>
<circle cx="391" cy="148" r="9.6" fill="rgba(0,0,255,0.145)"/>
<circle cx="390.3" cy="172.5" r="9.6" fill="rgba(0,0,255,0.145)"/>
<circle cx="411.8" cy="135.4" r="9.6" fill="rgba(0,0,255,0.145)"/>
<circle cx="414.7" cy="111.6" r="9.6" fill="rgba(0,0,255,0.145)"/>
<circle cx="438.3" cy="106.8" r="9.6" fill="rgba(0,0,255,0.145)"/>
<circle cx="450.4" cy="127.3" r="9.6" fill="rgba(0,0,255,0.145)"/>
<circle cx="434" cy="146" r="9.6" fill="rgba(0,0,255,0.145)"/>
<circle cx="416.2" cy="162.3" r="9.6" fill="rgba(0,0,255,0.145)"/>
<circle cx="441.3" cy="168.1" r="9.6" fill="rgba(0,0,255,0.145)"/>
<circle cx="465.2" cy="173.3" r="9.6" fill="rgba(0,0,255,0.145)"/>
<circle cx="481.4" cy="155.2" r="9.6" fill="rgba(0,0,255,0.145)"/>
<circle cx="474.7" cy="132.4" r="9.6" fill="rgba(0,0,255,0.145)"/>
<circle cx="490.6" cy="114.6" r="9.6" fill="rgba(0,0,255,0.145)"/>
<circle cx="514.9" cy="119.2" r="9.6" fill="rgba(0,0,255,0.145)"/>
<circle cx="522" cy="142" r="9.6" fill="rgba(0,0,255,0.145)"/>
<circle cx="506.1" cy="160.3" r="9.6" fill="rgba(0,0,255,0.145)"/>
<circle cx="488.8" cy="179.1" r="9.6" fill="rgba(0,0,255,0.145)"/>
<circle cx="513.3" cy="184" r="9.6" fill="rgba(0,0,255,0.145)"/>
<circle cx="537.3" cy="188.8" r="9.6" fill="rgba(0,0,255,0.145)"/>
<circle cx="553.6" cy="170.4" r="9.6" fill="rgba(0,0,255,0.145)"/>
<circle cx="546.4" cy="146.8" r="9.6" fill="rgba(0,0,255,0.145)"/>
<circle cx="577.2" cy="176.4" r="9.6" fill="rgba(0,0,255,0.145)"/></g>
<g transform="translate(-266.3,401.1)"><line x1="289.1" y1="138.6" x2="305.7" y2="147.5" stroke="#000" stroke-width="1.5"/>
<line x1="305.7" y1="147.5" x2="305.7" y2="164.8" stroke="#000" stroke-width="1.5"/>
<line x1="305.7" y1="147.5" x2="326.6" y2="135.6" stroke="#000" stroke-width="1.5"/>
<line x1="326.6" y1="135.6" x2="348.3" y2="147.3" stroke="#000" stroke-width="1.5"/>
<line x1="348.3" y1="147.3" x2="369.2" y2="135.4" stroke="#000" stroke-width="1.5"/>
<line x1="369.2" y1="135.4" x2="391" y2="148" stroke="#000" stroke-width="1.5"/>
<line x1="411.8" y1="135.4" x2="414.7" y2="111.6" stroke="#000" stroke-width="1.5"/>
<line x1="414.7" y1="111.6" x2="438.3" y2="106.8" stroke="#000" stroke-width="1.5"/>
<line x1="450.4" y1="127.3" x2="434" y2="146" stroke="#000" stroke-width="1.5"/>
<line x1="434" y1="146" x2="411.8" y2="135.4" stroke="#000" stroke-width="1.5"/>
<line x1="434" y1="146" x2="441.3" y2="168.1" stroke="#000" stroke-width="1.5"/>
<line x1="441.3" y1="168.1" x2="465.2" y2="173.3" stroke="#000" stroke-width="1.5"/>
<line x1="465.2" y1="173.3" x2="481.4" y2="155.2" stroke="#000" stroke-width="1.5"/>
<line x1="450.4" y1="127.3" x2="474.7" y2="132.4" stroke="#000" stroke-width="1.5"/>
<line x1="474.7" y1="132.4" x2="490.6" y2="114.6" stroke="#000" stroke-width="1.5"/>
<line x1="490.6" y1="114.6" x2="514.9" y2="119.2" stroke="#000" stroke-width="1.5"/>
<line x1="514.9" y1="119.2" x2="522" y2="142" stroke="#000" stroke-width="1.5"/>
<line x1="522" y1="142" x2="506.1" y2="160.3" stroke="#000" stroke-width="1.5"/>
<line x1="506.1" y1="160.3" x2="481.4" y2="155.2" stroke="#000" stroke-width="1.5"/>
<line x1="522" y1="142" x2="546.4" y2="146.8" stroke="#000" stroke-width="1.5"/>
<line x1="546.4" y1="146.8" x2="553.6" y2="170.4" stroke="#000" stroke-width="1.5"/>
<line x1="553.6" y1="170.4" x2="537.3" y2="188.8" stroke="#000" stroke-width="1.5"/>
<line x1="537.3" y1="188.8" x2="513.3" y2="184" stroke="#000" stroke-width="1.5"/>
<line x1="513.3" y1="184" x2="506.1" y2="160.3" stroke="#000" stroke-width="1.5"/>
<line x1="392.09" y1="150.03" x2="389.79" y2="149.97" stroke="#000" stroke-width="1.1"/>
<line x1="392.39" y1="152.37" x2="389.36" y2="152.29" stroke="#000" stroke-width="1.1"/>
<line x1="392.69" y1="154.72" x2="388.93" y2="154.61" stroke="#000" stroke-width="1.1"/>
<line x1="392.99" y1="157.06" x2="388.49" y2="156.93" stroke="#000" stroke-width="1.1"/>
<line x1="393.29" y1="159.4" x2="388.06" y2="159.25" stroke="#000" stroke-width="1.1"/>
<line x1="393.59" y1="161.75" x2="387.63" y2="161.58" stroke="#000" stroke-width="1.1"/>
<line x1="393.89" y1="164.09" x2="387.19" y2="163.9" stroke="#000" stroke-width="1.1"/>
<polygon points="411.8,135.4 389.5,145.52 392.5,150.48" fill="#000"/>
<polygon points="450.4,127.3 440.8,105.33 435.8,108.27" fill="#000"/>
<polygon points="434,146 418.54,156.22 422.46,160.5" fill="#000"/>
<polygon points="481.4,155.2 477.48,131.58 471.92,133.22" fill="#000"/>
<polygon points="506.1,160.3 490.97,172.46 495.23,176.39" fill="#000"/>
<polygon points="553.6,170.4 572.19,178.12 573.61,172.5" fill="#000"/>
<line x1="480.2" y1="133.15" x2="491.96" y2="119.98" stroke="#000" stroke-width="1.5"/>
<line x1="511.43" y1="123.53" x2="516.69" y2="140.4" stroke="#000" stroke-width="1.5"/>
<text transform="translate(285,140.8) scale(0.87,1)" font-size="12.0" fill="#000" text-anchor="middle">C</text>
<text x="269.5" y="140.8" font-size="12.0" fill="#000" text-anchor="middle" >H</text>
<text x="277.4" y="142.8" font-size="10.5" fill="#000" text-anchor="middle" >3</text>
<text transform="translate(305.8,176.6) scale(0.87,1)" font-size="12.0" fill="#000" text-anchor="middle">C</text>
<text x="314.7" y="176.6" font-size="12.0" fill="#000" text-anchor="middle" >H</text>
<text x="321.8" y="178.6" font-size="10.5" fill="#000" text-anchor="middle" >3</text>
<text transform="translate(390.3,176.9) scale(0.87,1)" font-size="12.0" fill="#000" text-anchor="middle">C</text>
<text x="399.2" y="176.9" font-size="12.0" fill="#000" text-anchor="middle" >H</text>
<text x="406.3" y="178.9" font-size="10.5" fill="#000" text-anchor="middle" >3</text>
<text transform="translate(416.1,166.7) scale(0.87,1)" font-size="12.0" fill="#000" text-anchor="middle">C</text>
<text x="400.6" y="166.7" font-size="12.0" fill="#000" text-anchor="middle" >H</text>
<text x="408.5" y="168.7" font-size="10.5" fill="#000" text-anchor="middle" >3</text>
<text transform="translate(488.5,183.5) scale(0.87,1)" font-size="12.0" fill="#000" text-anchor="middle">C</text>
<text x="473" y="183.5" font-size="12.0" fill="#000" text-anchor="middle" >H</text>
<text x="480.9" y="185.5" font-size="10.5" fill="#000" text-anchor="middle" >3</text>
<text transform="translate(577,180.9) scale(0.86,1)" font-size="12.0" fill="#ff0d0d" text-anchor="middle">O</text>
<text x="586.4" y="180.9" font-size="12.0" fill="#000" text-anchor="middle" >H</text>
<text x="285.43" y="127.18" font-size="10.0" fill="#000" stroke="#000" stroke-width="0.05" letter-spacing="0.45" text-anchor="middle" >54</text>
<text x="299.33" y="151.38" font-size="10.0" fill="#000" stroke="#000" stroke-width="0.05" letter-spacing="0.45" text-anchor="middle" >53</text>
<text x="326.93" y="134.28" font-size="10.0" fill="#000" stroke="#000" stroke-width="0.05" letter-spacing="0.45" text-anchor="middle" >52</text>
<text x="348.03" y="156.68" font-size="10.0" fill="#000" stroke="#000" stroke-width="0.05" letter-spacing="0.45" text-anchor="middle" >51</text>
<text x="369.03" y="134.28" font-size="10.0" fill="#000" stroke="#000" stroke-width="0.05" letter-spacing="0.45" text-anchor="middle" >50</text>
<text x="390.53" y="146.18" font-size="10.0" fill="#000" stroke="#000" stroke-width="0.05" letter-spacing="0.45" text-anchor="middle" >48</text>
<text x="390.53" y="187.68" font-size="10.0" fill="#000" stroke="#000" stroke-width="0.05" letter-spacing="0.45" text-anchor="middle" >49</text>
<text x="305.93" y="188.18" font-size="10.0" fill="#000" stroke="#000" stroke-width="0.05" letter-spacing="0.45" text-anchor="middle" >55</text>
<text x="405.23" y="138.78" font-size="10.0" fill="#000" stroke="#000" stroke-width="0.05" letter-spacing="0.45" text-anchor="middle" >47</text>
<text x="408.23" y="115.28" font-size="10.0" fill="#000" stroke="#000" stroke-width="0.05" letter-spacing="0.45" text-anchor="middle" >46</text>
<text x="416.43" y="153.28" font-size="10.0" fill="#000" stroke="#000" stroke-width="0.05" letter-spacing="0.45" text-anchor="middle" >43</text>
<text x="434.53" y="149.08" font-size="10.0" fill="#000" stroke="#000" stroke-width="0.05" letter-spacing="0.45" text-anchor="middle" >42</text>
<text x="438.53" y="104.28" font-size="10.0" fill="#000" stroke="#000" stroke-width="0.05" letter-spacing="0.45" text-anchor="middle" >45</text>
<text x="450.53" y="125.58" font-size="10.0" fill="#000" stroke="#000" stroke-width="0.05" letter-spacing="0.45" text-anchor="middle" >44</text>
<text x="474.43" y="129.98" font-size="10.0" fill="#000" stroke="#000" stroke-width="0.05" letter-spacing="0.45" text-anchor="middle" >38</text>
<text x="490.93" y="111.88" font-size="10.0" fill="#000" stroke="#000" stroke-width="0.05" letter-spacing="0.45" text-anchor="middle" >37</text>
<text x="514.93" y="117.38" font-size="10.0" fill="#000" stroke="#000" stroke-width="0.05" letter-spacing="0.45" text-anchor="middle" >36</text>
<text x="528.83" y="141.38" font-size="10.0" fill="#000" stroke="#000" stroke-width="0.05" letter-spacing="0.45" text-anchor="middle" >35</text>
<text x="546.62" y="146.38" font-size="10.0" fill="#000" stroke="#000" stroke-width="0.05" letter-spacing="0.45" text-anchor="middle" >34</text>
<text x="577.23" y="167.08" font-size="10.0" fill="#000" stroke="#000" stroke-width="0.05" letter-spacing="0.45" text-anchor="middle" >32</text>
<text x="554.33" y="179.98" font-size="10.0" fill="#000" stroke="#000" stroke-width="0.05" letter-spacing="0.45" text-anchor="middle" >33</text>
<text x="537.02" y="197.58" font-size="10.0" fill="#000" stroke="#000" stroke-width="0.05" letter-spacing="0.45" text-anchor="middle" >59</text>
<text x="513.23" y="192.98" font-size="10.0" fill="#000" stroke="#000" stroke-width="0.05" letter-spacing="0.45" text-anchor="middle" >58</text>
<text x="488.83" y="195.48" font-size="10.0" fill="#000" stroke="#000" stroke-width="0.05" letter-spacing="0.45" text-anchor="middle" >57</text>
<text x="506.23" y="164.18" font-size="10.0" fill="#000" stroke="#000" stroke-width="0.05" letter-spacing="0.45" text-anchor="middle" >56</text>
<text x="465.03" y="182.88" font-size="10.0" fill="#000" stroke="#000" stroke-width="0.05" letter-spacing="0.45" text-anchor="middle" >40</text>
<text x="442.33" y="178.18" font-size="10.0" fill="#000" stroke="#000" stroke-width="0.05" letter-spacing="0.45" text-anchor="middle" >41</text>
<text x="482.43" y="164.98" font-size="10.0" fill="#000" stroke="#000" stroke-width="0.05" letter-spacing="0.45" text-anchor="middle" >39</text><circle cx="284.8" cy="136.3" r="9.6" fill="rgba(0,0,255,0.145)"/>
<circle cx="305.7" cy="147.5" r="9.6" fill="rgba(0,0,255,0.145)"/>
<circle cx="305.7" cy="172.2" r="9.6" fill="rgba(0,0,255,0.145)"/>
<circle cx="326.6" cy="135.6" r="9.6" fill="rgba(0,0,255,0.145)"/>
<circle cx="348.3" cy="147.3" r="9.6" fill="rgba(0,0,255,0.145)"/>
<circle cx="369.2" cy="135.4" r="9.6" fill="rgba(0,0,255,0.145)"/>
<circle cx="391" cy="148" r="9.6" fill="rgba(0,0,255,0.145)"/>
<circle cx="390.3" cy="172.5" r="9.6" fill="rgba(0,0,255,0.145)"/>
<circle cx="411.8" cy="135.4" r="9.6" fill="rgba(0,0,255,0.145)"/>
<circle cx="414.7" cy="111.6" r="9.6" fill="rgba(0,0,255,0.145)"/>
<circle cx="438.3" cy="106.8" r="9.6" fill="rgba(0,0,255,0.145)"/>
<circle cx="450.4" cy="127.3" r="9.6" fill="rgba(0,0,255,0.145)"/>
<circle cx="434" cy="146" r="9.6" fill="rgba(0,0,255,0.145)"/>
<circle cx="416.2" cy="162.3" r="9.6" fill="rgba(0,0,255,0.145)"/>
<circle cx="441.3" cy="168.1" r="9.6" fill="rgba(0,0,255,0.145)"/>
<circle cx="465.2" cy="173.3" r="9.6" fill="rgba(0,0,255,0.145)"/>
<circle cx="481.4" cy="155.2" r="9.6" fill="rgba(0,0,255,0.145)"/>
<circle cx="474.7" cy="132.4" r="9.6" fill="rgba(0,0,255,0.145)"/>
<circle cx="490.6" cy="114.6" r="9.6" fill="rgba(0,0,255,0.145)"/>
<circle cx="514.9" cy="119.2" r="9.6" fill="rgba(0,0,255,0.145)"/>
<circle cx="522" cy="142" r="9.6" fill="rgba(0,0,255,0.145)"/>
<circle cx="506.1" cy="160.3" r="9.6" fill="rgba(0,0,255,0.145)"/>
<circle cx="488.8" cy="179.1" r="9.6" fill="rgba(0,0,255,0.145)"/>
<circle cx="513.3" cy="184" r="9.6" fill="rgba(0,0,255,0.145)"/>
<circle cx="537.3" cy="188.8" r="9.6" fill="rgba(0,0,255,0.145)"/>
<circle cx="553.6" cy="170.4" r="9.6" fill="rgba(0,0,255,0.145)"/>
<circle cx="546.4" cy="146.8" r="9.6" fill="rgba(0,0,255,0.145)"/>
<circle cx="577.2" cy="176.4" r="9.6" fill="rgba(0,0,255,0.145)"/></g>
<line x1="726.3" y1="547.1" x2="726.3" y2="536.8" stroke="#000" stroke-width="1.5"/>
<line x1="722" y1="552.2" x2="706" y2="552.2" stroke="#000" stroke-width="1.5"/>
<line x1="722" y1="556.8" x2="706" y2="556.8" stroke="#000" stroke-width="1.5"/>
<line x1="730.6" y1="554.5" x2="746.3" y2="554.5" stroke="#000" stroke-width="1.5"/>
<line x1="726.3" y1="561.5" x2="726.3" y2="571.5" stroke="#000" stroke-width="1.5"/>
<line x1="730.3" y1="565.4" x2="722.3" y2="565.4" stroke="#000" stroke-width="1.5"/>
<line x1="730.3" y1="568" x2="722.3" y2="568" stroke="#000" stroke-width="1.5"/>
<text transform="translate(726.3,534.6) scale(0.86,1)" font-size="12.0" fill="#ff0d0d" text-anchor="middle">O</text>
<text transform="translate(701.7,559.3) scale(0.86,1)" font-size="12.0" fill="#ff0d0d" text-anchor="middle">O</text>
<text transform="translate(750.6,559.3) scale(0.86,1)" font-size="12.0" fill="#ff0d0d" text-anchor="middle">O</text>
<text x="726.3" y="559.7" font-size="12.0" fill="#ff8000" text-anchor="middle" >P</text>
<text transform="translate(726.3,583.7) scale(0.86,1)" font-size="12.0" fill="#ff0d0d" text-anchor="middle">O</text>
<text x="735.4" y="583.7" font-size="12.0" fill="#000" text-anchor="middle" >H</text>
<text x="725.7" y="521.78" font-size="10.0" fill="#000" stroke="#000" stroke-width="0.05" text-anchor="middle" >3</text>
<text x="719" y="546.38" font-size="10.0" fill="#000" stroke="#000" stroke-width="0.05" text-anchor="middle" >2</text>
<text x="694" y="558.28" font-size="10.0" fill="#000" stroke="#000" stroke-width="0.05" text-anchor="middle" >1</text>
<text x="758.3" y="558.28" font-size="10.0" fill="#000" stroke="#000" stroke-width="0.05" text-anchor="middle" >4</text>
<text x="726.33" y="595.38" font-size="10.0" fill="#000" stroke="#000" stroke-width="0.05" letter-spacing="0.45" text-anchor="middle" >60</text>
<rect x="732" y="524.1" width="2.8" height="1" fill="#000"/>
<rect x="756" y="549" width="2.8" height="1" fill="#000"/>
<circle cx="726.3" cy="529.8" r="9.6" fill="rgba(0,255,255,0.25)"/>
<circle cx="726.3" cy="554.6" r="9.6" fill="rgba(0,255,255,0.25)"/>
<circle cx="701.7" cy="554.6" r="9.6" fill="rgba(0,255,255,0.25)"/>
<circle cx="750.6" cy="554.6" r="9.6" fill="rgba(0,255,255,0.25)"/>
<circle cx="726.3" cy="578.9" r="9.6" fill="rgba(255,255,0,0.25)"/>
<text x="680.6" y="149.7" font-size="12.0" fill="#000" text-anchor="middle" >H</text>
<text x="688.4" y="151.7" font-size="10.5" fill="#000" text-anchor="middle" >2</text>
<text transform="translate(696.5,149.7) scale(0.86,1)" font-size="12.0" fill="#ff0d0d" text-anchor="middle">O</text>
<text x="707.33" y="148.18" font-size="10.0" fill="#000" stroke="#000" stroke-width="0.05" letter-spacing="0.45" text-anchor="middle" >60</text>
<circle cx="696.5" cy="144.6" r="9.6" fill="rgba(255,255,0,0.25)"/>
<rect x="240.9" y="150.9" width="12.2" height="2" fill="#000"/>
<rect x="246" y="145.9" width="2" height="12" fill="#000"/>
<rect x="622.9" y="151.2" width="12.2" height="2" fill="#000"/>
<rect x="628" y="146.2" width="2" height="12" fill="#000"/>
<rect x="357" y="551.5" width="12.2" height="2" fill="#000"/>
<rect x="362.1" y="546.5" width="2" height="12" fill="#000"/>
<rect x="657.5" y="551.3" width="12.2" height="2" fill="#000"/>
<rect x="662.6" y="546.3" width="2" height="12" fill="#000"/>
<text x="94.3" y="324.6" font-size="13" fill="#000" textLength="36.7" lengthAdjust="spacing">atp[c]</text>
<text x="385.2" y="224.9" font-size="13" fill="#000" textLength="90.6" lengthAdjust="spacing">7dhchsterol[c]</text>
<text x="676.8" y="179.6" font-size="13" fill="#000" textLength="39" lengthAdjust="spacing">h2o[c]</text>
<text x="119" y="626" font-size="13" fill="#000" textLength="90.9" lengthAdjust="spacing">7dhchsterol[e]</text>
<text x="492.4" y="673.9" font-size="13" fill="#000" textLength="39" lengthAdjust="spacing">adp[c]</text>
<text x="712.6" y="614.7" font-size="13" fill="#000" textLength="25.8" lengthAdjust="spacing">pi[c]</text>
<rect x="385.4" y="199.5" width="5.3" height="65" fill="#000"/>
<polygon points="379.5,264 396.3,264 388,272.6" fill="#000"/>
</svg></body></html>
